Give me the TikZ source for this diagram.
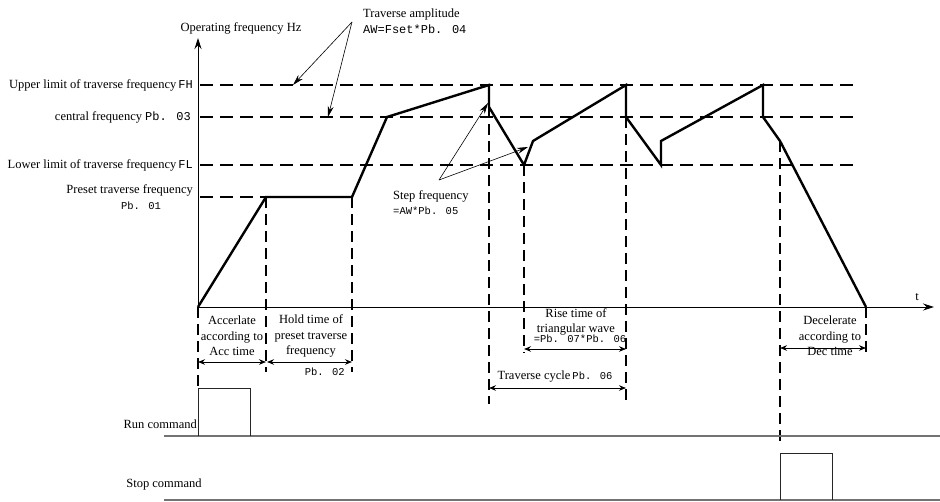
\documentclass[tikz,border=0pt]{standalone}
\usepackage{fontspec}
\setmainfont{Liberation Serif}
\newfontfamily\pbfont{Liberation Mono}
\usetikzlibrary{arrows.meta,positioning,calc}
\newcommand\lblfont{\fontsize{12.5}{15.5}\selectfont}
\newcommand\pbsmall{\pbfont\fontsize{10.5}{15}\selectfont}
\newcommand\pbbig{\pbfont\fontsize{12}{15}\selectfont}
\tikzset{
  lbl/.style={inner sep=0pt, font=\lblfont},
  wave/.style={line width=2.4pt, line join=miter},
  level/.style={line width=1.8pt, dash pattern=on 13pt off 7pt},
  guide/.style={line width=1.6pt, dash pattern=on 11pt off 6pt},
  axisarr/.style={-{Stealth[length=11pt,width=7pt]}, line width=0.9pt},
  dimarr/.style={{Stealth[length=7pt,width=5.5pt]}-{Stealth[length=7pt,width=5.5pt]}, line width=0.9pt},
  callout/.style={-{Stealth[length=11pt,width=6pt]}, line width=0.6pt},
  cmdline/.style={draw=black!55, line width=1.2pt},
  pulse/.style={draw=black!85, line width=0.8pt}
}
\begin{document}
\begin{tikzpicture}[x=1pt,y=-1pt]
  \useasboundingbox (0,0) rectangle (940,501);
  \coordinate (O) at (198,307);
  \coordinate (ytip) at (198,38);
  \coordinate (ttip) at (934,307);
  \draw[axisarr] (O) -- (ytip);
  \draw[axisarr] (O) -- (ttip);
  \node[lbl] (ylbl) at (241,28) {Operating frequency Hz};
  \node[lbl] (tlbl) at (917,297) {t};

  \node[lbl, anchor=east] (fhlbl) at (193,85) {Upper limit of traverse frequency\,{\pbbig FH}};
  \node[lbl, anchor=east] (fclbl) at (191,117) {central frequency {\pbbig Pb. 03}};
  \node[lbl, anchor=east] (fllbl) at (193,165) {Lower limit of traverse frequency\,{\pbbig FL}};
  \node[lbl, anchor=east] (prelbl) at (193,190) {Preset traverse frequency};
  \node[lbl] (prepb) at (141,206) {\pbsmall Pb. 01};
  \coordinate (fhstart) at (200,85);
  \coordinate (fhend) at (860,85);
  \coordinate (fcend) at (860,117);
  \coordinate (flend) at (860,165);
  \draw[level] (fhstart) -- (fhend);
  \draw[level] (fhstart |- fcend) -- (fcend);
  \draw[level] (fhstart |- flend) -- (flend);

  \coordinate (w1) at (266,197);
  \coordinate (w2) at (352,197);
  \coordinate (w3) at (387,117);
  \coordinate (w4) at (489,85);
  \coordinate (w5) at (489,107);
  \coordinate (w6) at (524,165);
  \coordinate (w7) at (533,141);
  \coordinate (w8) at (626,85);
  \coordinate (w9) at (626,117);
  \coordinate (w10) at (661,165);
  \coordinate (w11) at (661,141);
  \coordinate (w12) at (763,85);
  \coordinate (w13) at (763,117);
  \coordinate (w14) at (780,141);
  \coordinate (w15) at (866,307);
  \draw[level] (fhstart |- w1) -- (w1);
  \draw[wave] (O) -- (w1) -- (w2) -- (w3) -- (w4) -- (w5) -- (w6) -- (w7) -- (w8) -- (w9)
    -- (w10) -- (w11) -- (w12) -- (w13) -- (w14) -- (w15);

  \draw[guide] (O) -- ++(0,81);
  \draw[guide] (w1) -- ++(0,175);
  \draw[guide] (w2) -- ++(0,175);
  \draw[guide] (w5) -- ++(0,297);
  \draw[guide] (w6) -- ++(0,188);
  \draw[guide] (w9) -- ++(0,285);
  \draw[guide] (w14) -- ++(0,306);
  \draw[guide] (w15) -- ++(0,49);

  \coordinate (rowA) at (0,362);
  \coordinate (rowB) at (0,349);
  \coordinate (rowC) at (0,388);
  \coordinate (rowD) at (0,348);
  \draw[dimarr] (O |- rowA) -- (w1 |- rowA);
  \draw[dimarr] ([xshift=1pt]w1 |- rowA) -- (w2 |- rowA);
  \draw[dimarr] (w6 |- rowB) -- (w9 |- rowB);
  \draw[dimarr] (w5 |- rowC) -- (w9 |- rowC);
  \draw[dimarr] (w14 |- rowD) -- (w15 |- rowD);

  \node[lbl, align=center] (acclbl) at (232,336) {Accerlate\\according to\\Acc time};
  \node[lbl, align=center] (holdlbl) at (311,336) {Hold time of\\preset traverse\\frequency};
  \node[lbl, anchor=east] (holdpb) at (345,372) {\pbsmall Pb. 02};
  \node[lbl, align=center] (riselbl) at (576,322) {Rise time of\\triangular wave};
  \node[lbl] (riseval) at (580,339) {\pbsmall =Pb. 07*Pb. 06};
  \node[lbl] (cyclbl) at (555,377) {Traverse cycle\,{\pbsmall Pb. 06}};
  \node[lbl, align=center] (declbl) at (830,336) {Decelerate\\according to\\Dec time};

  \node[lbl, align=left, anchor=west] (amplbl) at (363,21) {Traverse amplitude\\[1pt]{\pbbig AW=Fset*Pb. 04}};
  \coordinate (ampsrc) at (352,22);
  \coordinate (ampfh) at (293,85);
  \coordinate (ampfc) at (328,117);
  \draw[callout] (ampsrc) -- (ampfh);
  \draw[callout] (ampsrc) -- (ampfc);

  \node[lbl, align=left, anchor=north west] (steplbl) at (393,190) {Step frequency\\{\pbsmall =AW*Pb. 05}};
  \coordinate (stepsrc) at (439,180);
  \coordinate (stepdn) at (488,103);
  \coordinate (stepup) at (528,147);
  \draw[callout] (stepsrc) -- (stepdn);
  \draw[callout] (stepsrc) -- (stepup);

  \coordinate (run0) at (164,436);
  \coordinate (run1) at (940,436);
  \coordinate (stop0) at (164,500);
  \coordinate (stop1) at (940,500);
  \draw[cmdline] (run0) -- (run1);
  \draw[cmdline] (stop0) -- (stop1);
  \draw[pulse] (O |- run0) -- (198,388) -- (250,388) -- (250,436);
  \draw[pulse] (w14 |- stop0) -- (780,453) -- (832,453) -- (832,500);
  \node[lbl, anchor=east] (runlbl) at (197,424) {Run command};
  \node[lbl] (stoplbl) at (164,484) {Stop command};
\end{tikzpicture}
\end{document}
